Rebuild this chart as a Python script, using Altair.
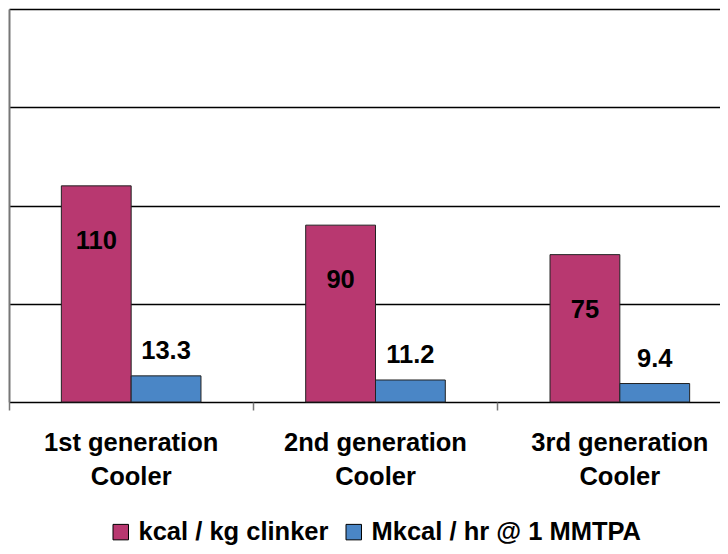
import altair as alt
import pandas as pd

categories = ["1st generation|Cooler", "2nd generation|Cooler", "3rd generation|Cooler"]
series = ["kcal / kg clinker", "Mkcal / hr @ 1 MMTPA"]
kcal_values = [110, 90, 75]
mkcal_values = [13.3, 11.2, 9.4]
kcal_labels = ["110", "90", "75"]
mkcal_labels = ["13.3", "11.2", "9.4"]
colors = ["#B83870", "#4A86C6"]

rows = []
for c, v, l in zip(categories, kcal_values, kcal_labels):
    rows.append({"cat": c, "series": series[0], "value": v, "label": l})
for c, v, l in zip(categories, mkcal_values, mkcal_labels):
    rows.append({"cat": c, "series": series[1], "value": v, "label": l})
df = pd.DataFrame(rows)

FONT = "Liberation Sans"
FS = 25.5

x = alt.X("cat:N", sort=categories, title=None,
          scale=alt.Scale(paddingInner=0, paddingOuter=0, range=[0, 733]),
          axis=alt.Axis(labelExpr="split(datum.label, '|')", labelAngle=0,
                        labelFont=FONT, labelFontSize=FS, labelFontWeight="bold",
                        labelColor="black", labelLineHeight=34, labelPadding=20.5,
                        labelBaseline="top", labelLimit=400, labelOverlap=False,
                        bandPosition=0, ticks=True, tickColor="#777777", tickSize=8,
                        tickWidth=1.5, domain=False, grid=False))
xo = alt.XOffset("series:N", sort=series, scale=alt.Scale(paddingOuter=0.75, paddingInner=0))
y = alt.Y("value:Q", title=None,
          scale=alt.Scale(domain=[0, 200], nice=False),
          axis=alt.Axis(values=[0, 50, 100, 150, 200], labels=False, ticks=False,
                        domainColor="#777777", domainWidth=2,
                        grid=True, gridColor="black", gridWidth=1.5))

bars = alt.Chart(df).mark_bar(stroke="#222222", strokeWidth=1).encode(
    x=x, xOffset=xo, y=y,
    color=alt.Color("series:N", sort=series,
                    scale=alt.Scale(domain=series, range=colors),
                    legend=alt.Legend(title=None, orient="none", legendX=99, legendY=510,
                                      direction="horizontal", padding=0,
                                      symbolType="square", symbolSize=240,
                                      symbolStrokeColor="black", symbolStrokeWidth=1,
                                      labelFont=FONT, labelFontSize=FS,
                                      labelFontWeight="bold", labelColor="black",
                                      columnPadding=12, labelOffset=5,
                                      labelLimit=400)),
)

text_in = alt.Chart(df).transform_filter(alt.datum.series == series[0]).mark_text(
    font=FONT, fontSize=FS, fontWeight="bold", color="black", baseline="middle", dy=55
).encode(x=x, xOffset=xo, y=y, text="label:N")

text_top = alt.Chart(df).transform_filter(alt.datum.series == series[1]).mark_text(
    font=FONT, fontSize=FS, fontWeight="bold", color="black", baseline="middle", dy=-25
).encode(x=x, xOffset=xo, y=y, text="label:N")

chart = alt.layer(bars, text_in, text_top).properties(
    width=711, height=393,
    padding={"left": 1, "top": 1, "right": 0, "bottom": 144},
    autosize=alt.AutoSizeParams(type="none"),
).configure_view(stroke=None)

chart.save("out.html", embed_options={"renderer": "svg", "actions": False})
